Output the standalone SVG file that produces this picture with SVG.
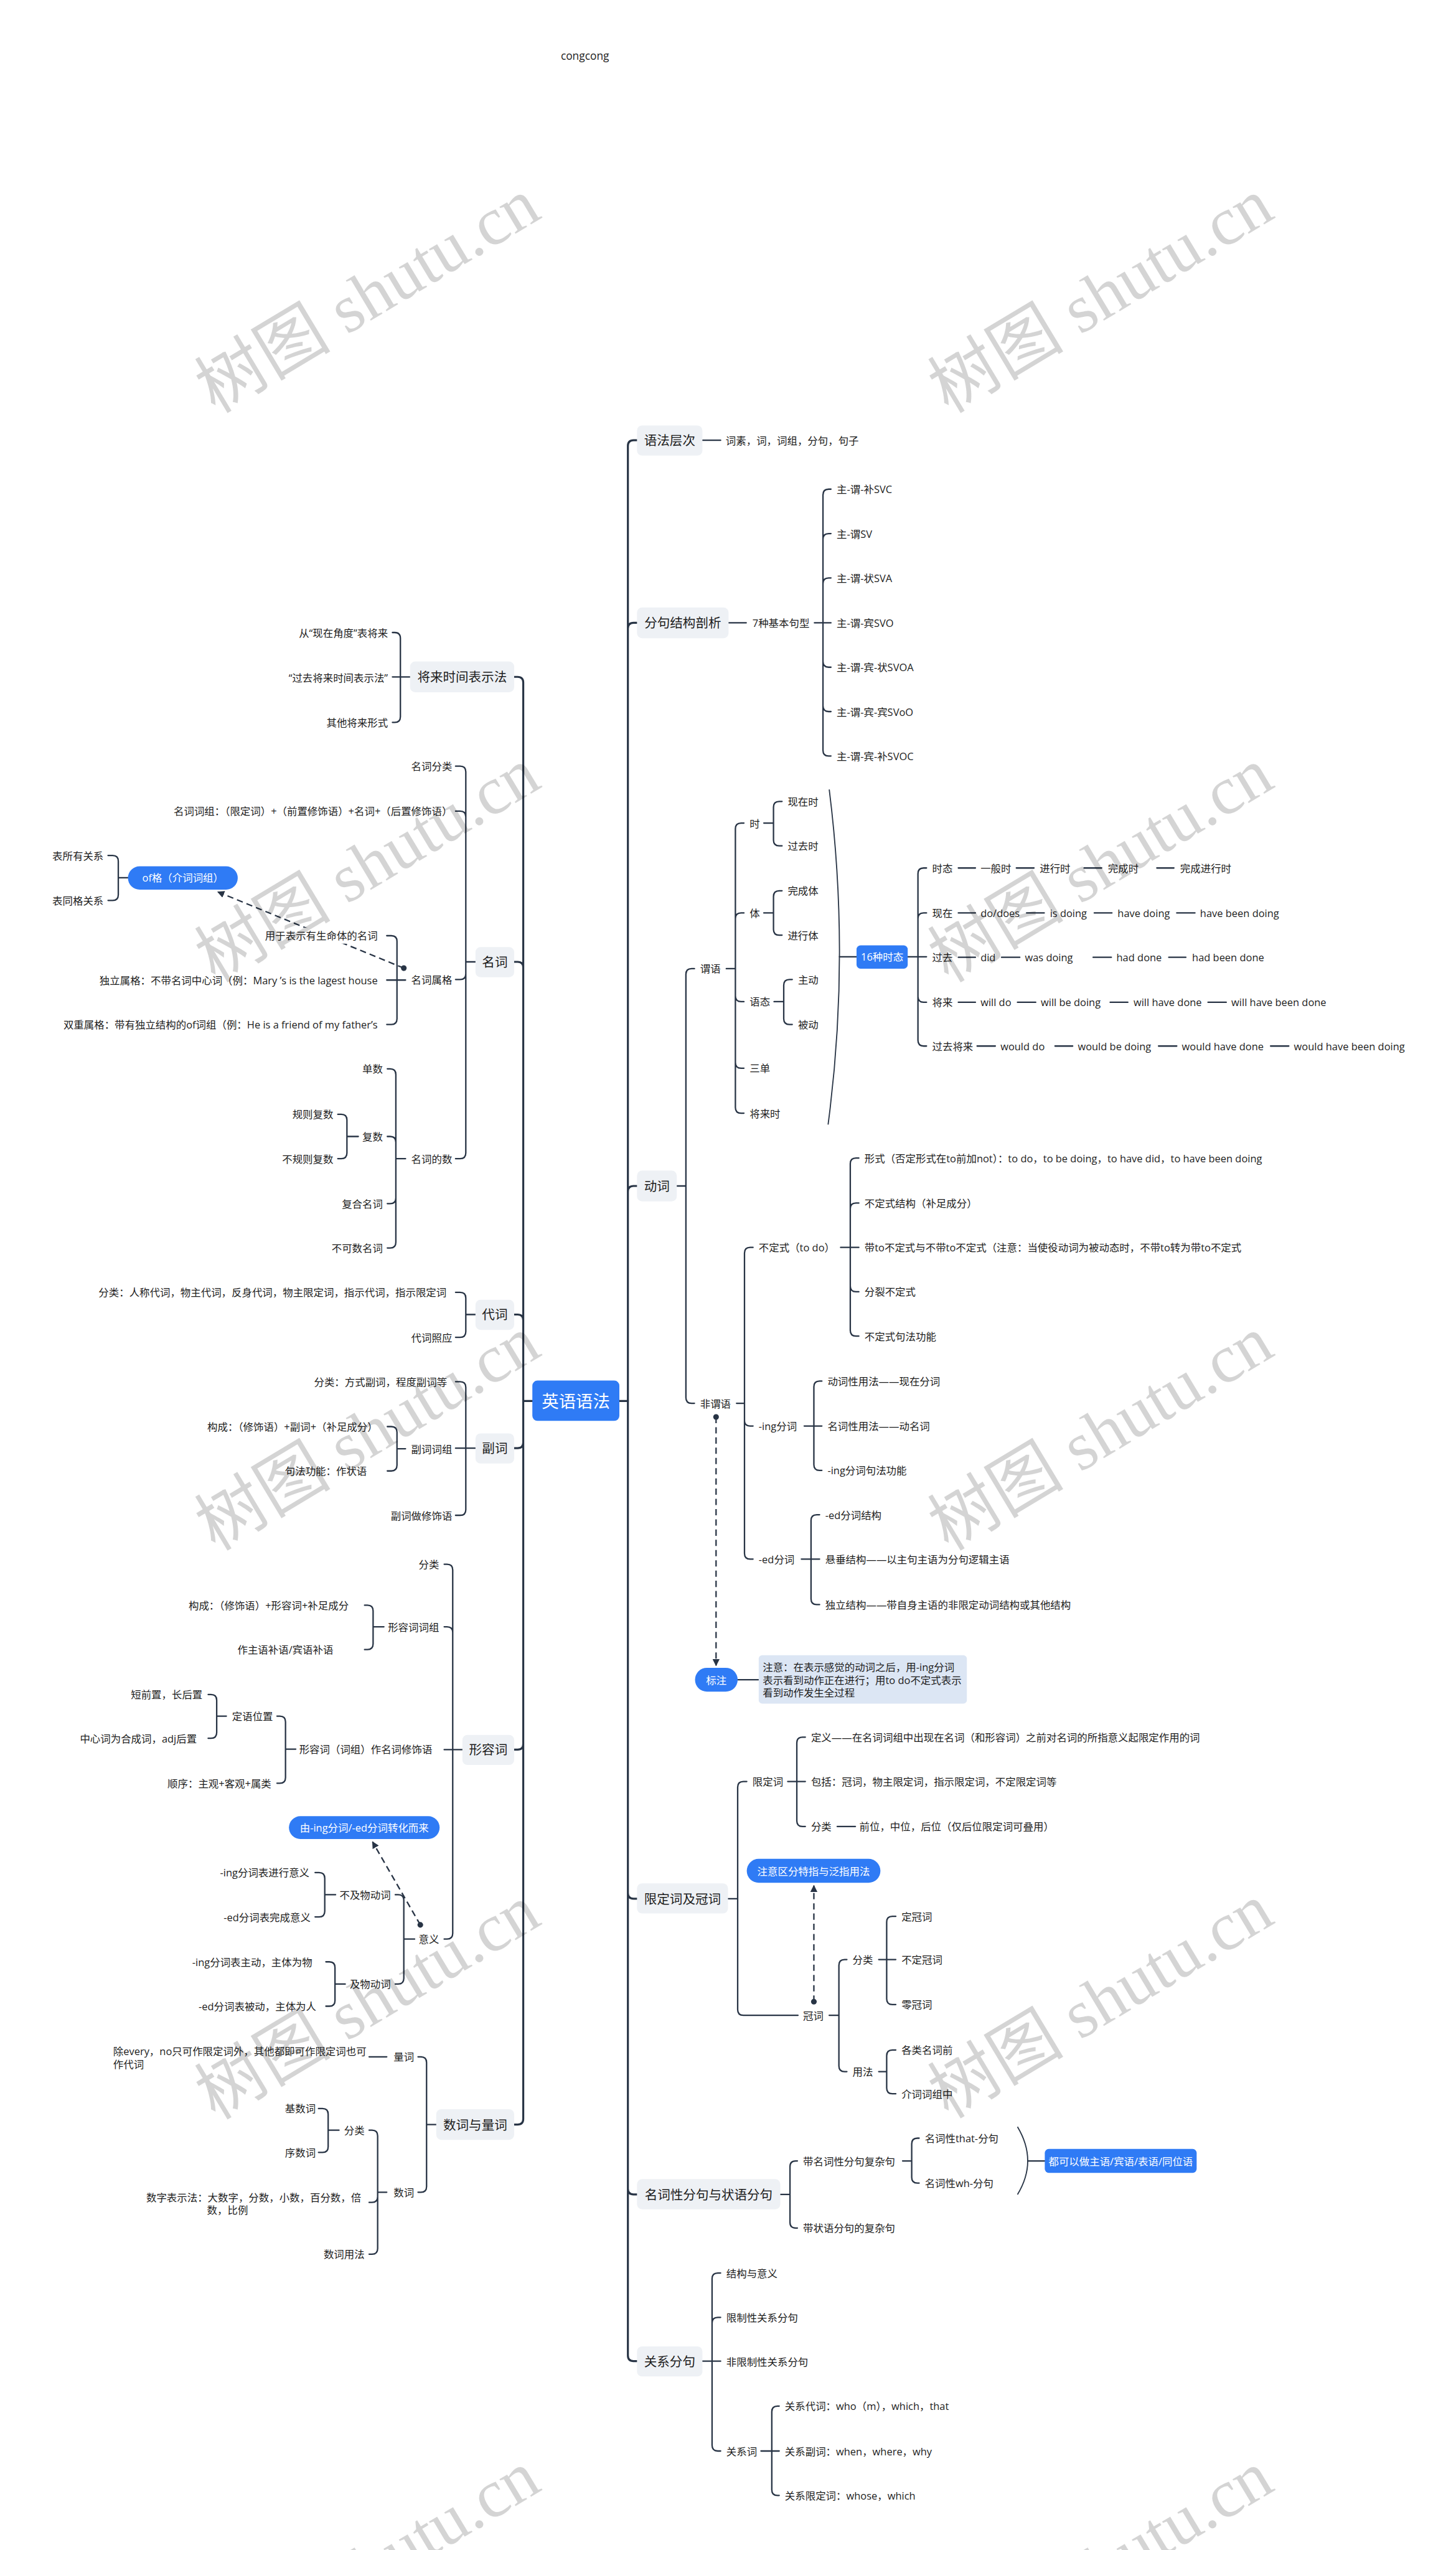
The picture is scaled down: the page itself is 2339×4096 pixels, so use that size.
<svg xmlns="http://www.w3.org/2000/svg" width="2339" height="4096" viewBox="0 0 2339 4096">
<defs>
<style>
.t{font-family:"Open Sans","Noto Sans CJK SC",sans-serif;font-size:18px;fill:#1c1c1c;dominant-baseline:central}
.e{text-anchor:end}
.m{text-anchor:middle}
.l1{font-size:22.5px}
.c0{font-size:30px}
.w{fill:#ffffff}
.box{fill:#eef1f5}
.blue{fill:#2f7bf5}
.note{fill:#dce6f4}
.ln{fill:none;stroke:#283445;stroke-width:2.5;stroke-linecap:round}
.tr{fill:none;stroke:#283445;stroke-width:3.5;stroke-linecap:round}
.sm{fill:none;stroke:#283445;stroke-width:2}
.da{fill:none;stroke:#283445;stroke-width:2.5;stroke-dasharray:11 7}
.dot{fill:#283445}
.wm{font-family:"Liberation Serif","Noto Sans CJK SC",serif;font-size:120px;fill:#000;fill-opacity:0.17;text-anchor:middle;dominant-baseline:central}
</style>
<marker id="ah" viewBox="0 0 10 10" refX="9" refY="5" markerWidth="5" markerHeight="5" orient="auto" markerUnits="strokeWidth"><path d="M0,0 L10,5 L0,10 z" fill="#283445"/></marker>
</defs>
<rect width="2339" height="4096" fill="#ffffff"/>
<g transform="scale(0.91367)">
<text class="t" x="986" y="97" style="font-size:19px">congcong</text>

<g id="connectors">
<path class="tr" d="M904,1190H910Q920,1190 920,1200V3725Q920,3735 910,3735H904M904,1691H910Q920,1691 920,1701M904,2311H910Q920,2311 920,2321M904,2546H910Q920,2546 920,2536M904,3076H910Q920,3076 920,3066M920,2463H936M1089,2463H1104"/>
<path class="tr" d="M1120,774H1114Q1104,774 1104,784V4141Q1104,4151 1114,4151H1120M1120,1095H1114Q1104,1095 1104,1105M1120,2085H1114Q1104,2085 1104,2095M1120,3338H1114Q1104,3338 1104,3328M1120,3858H1114Q1104,3858 1104,3848"/>
<path class="ln" d="M721,1190H690M690,1112H694Q704,1112 704,1122V1260Q704,1270 694,1270H690"/>
<path class="ln" d="M836,1691H819M801,1347H809Q819,1347 819,1357V2027Q819,2037 809,2037H801M819,1436Q819,1426 809,1426H801M819,1712Q819,1722 809,1722H801"/>
<path class="ln" d="M713,1723H680M680,1645H688Q698,1645 698,1655V1791Q698,1801 688,1801H680"/>
<path class="ln" d="M225,1543H208M190,1504H198Q208,1504 208,1514V1573Q208,1583 198,1583H190"/>
<path class="ln" d="M713,2037H696M681,1879H686Q696,1879 696,1889V2184Q696,2194 686,2194H681M696,2008Q696,1998 686,1998H681M696,2106Q696,2116 686,2116H681"/>
<path class="ln" d="M630,1998H610M594,1959H600Q610,1959 610,1969V2027Q610,2037 600,2037H594"/>
<path class="ln" d="M836,2311H819M801,2272H809Q819,2272 819,2282V2341Q819,2351 809,2351H801"/>
<path class="ln" d="M836,2546H801M801,2429H809Q819,2429 819,2439V2654Q819,2664 809,2664H801"/>
<path class="ln" d="M713,2547H698M681,2508H688Q698,2508 698,2518V2576Q698,2586 688,2586H681"/>
<path class="ln" d="M813,3076H781M781,2750H786Q796,2750 796,2760V3399Q796,3409 786,3409H781M796,2870Q796,2860 786,2860H781"/>
<path class="ln" d="M675,2860H656M641,2822H646Q656,2822 656,2832V2890Q656,2900 646,2900H641"/>
<path class="ln" d="M520,3075H502M487,3017H492Q502,3017 502,3027V3125Q502,3135 492,3135H487"/>
<path class="ln" d="M398,3017H381M366,2979H371Q381,2979 381,2989V3046Q381,3056 371,3056H366"/>
<path class="ln" d="M729,3409H710M695,3331H700Q710,3331 710,3341V3478Q710,3488 700,3488H695"/>
<path class="ln" d="M590,3331H571M554,3292H561Q571,3292 571,3302V3360Q571,3370 561,3370H554"/>
<path class="ln" d="M607,3488H589M573,3449H579Q589,3449 589,3459V3517Q589,3527 579,3527H573"/>
<path class="ln" d="M767,3735H750M735,3616H740Q750,3616 750,3626V3844Q750,3854 740,3854H735M680,3616H649"/>
<path class="ln" d="M680,3854H664M649,3745H654Q664,3745 664,3755V3953Q664,3963 654,3963H649M664,3862Q664,3872 654,3872H649"/>
<path class="ln" d="M596,3745H577M560,3707H567Q577,3707 577,3717V3774Q577,3784 567,3784H560"/>
<path class="da" d="M710,1702L383,1568" marker-end="url(#ah)"/>
<circle class="dot" cx="710" cy="1702" r="5"/>
<path class="da" d="M739,3384L655,3238" marker-end="url(#ah)"/>
<circle class="dot" cx="739" cy="3384" r="5"/>

<path class="ln" d="M1235,774H1267"/>
<path class="ln" d="M1281,1095H1312M1432,1095H1461M1461,860H1457Q1447,860 1447,870V1319Q1447,1329 1457,1329H1461M1447,948Q1447,938 1457,938H1461M1447,1026Q1447,1016 1457,1016H1461M1447,1163Q1447,1173 1457,1173H1461M1447,1241Q1447,1251 1457,1251H1461"/>
<path class="ln" d="M1190,2085H1206M1221,1703H1216Q1206,1703 1206,1713V2457Q1206,2467 1216,2467H1221"/>
<path class="ln" d="M1277,1703H1293M1308,1447H1303Q1293,1447 1293,1457V1947Q1293,1957 1303,1957H1308M1293,1615Q1293,1605 1303,1605H1308M1293,1751Q1293,1761 1303,1761H1308M1293,1868Q1293,1878 1303,1878H1308"/>
<path class="ln" d="M1343,1447H1360M1375,1409H1370Q1360,1409 1360,1419V1477Q1360,1487 1370,1487H1375"/>
<path class="ln" d="M1343,1605H1360M1375,1566H1370Q1360,1566 1360,1576V1634Q1360,1644 1370,1644H1375"/>
<path class="ln" d="M1361,1761H1378M1393,1722H1388Q1378,1722 1378,1732V1791Q1378,1801 1388,1801H1393"/>
<path class="sm" d="M1458,1388Q1495,1682 1456,1977"/>
<path class="ln" d="M1476,1682H1506"/>
<path class="ln" d="M1596,1682H1629M1629,1526H1624Q1614,1526 1614,1536V1829Q1614,1839 1624,1839H1629M1614,1615Q1614,1605 1624,1605H1629M1614,1752Q1614,1762 1624,1762H1629"/>
<path class="ln" d="M1685,1526H1715M1787,1526H1818M1906,1526H1937M2034,1526H2064M1685,1605H1715M1805,1605H1836M1924,1605H1955M2069,1605H2101M1685,1683H1715M1761,1683H1793M1922,1683H1954M2055,1683H2085M1685,1762H1715M1789,1762H1821M1952,1762H1983M2124,1762H2156M1718,1839H1750M1855,1839H1886M2037,1839H2069M2234,1839H2266"/>
<path class="ln" d="M1295,2467H1309M1324,2193H1319Q1309,2193 1309,2203V2731Q1309,2741 1319,2741H1324M1309,2497Q1309,2507 1319,2507H1324"/>
<path class="ln" d="M1478,2193H1510M1510,2036H1505Q1495,2036 1495,2046V2339Q1495,2349 1505,2349H1510M1495,2125Q1495,2115 1505,2115H1510M1495,2261Q1495,2271 1505,2271H1510"/>
<path class="ln" d="M1414,2507H1445M1445,2428H1441Q1431,2428 1431,2438V2575Q1431,2585 1441,2585H1445"/>
<path class="ln" d="M1409,2741H1441M1441,2663H1436Q1426,2663 1426,2673V2811Q1426,2821 1436,2821H1441"/>
<path class="da" d="M1259,2491V2928" marker-end="url(#ah)"/>
<circle class="dot" cx="1259" cy="2491" r="5"/>
<path class="ln" d="M1297,2953H1334"/>
<path class="ln" d="M1280,3338H1297M1313,3132H1307Q1297,3132 1297,3142V3533Q1297,3543 1307,3543H1403"/>
<path class="ln" d="M1385,3132H1416M1416,3054H1411Q1401,3054 1401,3064V3201Q1401,3211 1411,3211H1416M1472,3211H1504"/>
<path class="da" d="M1431,3519V3315" marker-end="url(#ah)"/>
<circle class="dot" cx="1431" cy="3519" r="5"/>
<path class="ln" d="M1458,3543H1475M1489,3445H1485Q1475,3445 1475,3455V3632Q1475,3642 1485,3642H1489"/>
<path class="ln" d="M1545,3445H1575M1575,3369H1569Q1559,3369 1559,3379V3514Q1559,3524 1569,3524H1575"/>
<path class="ln" d="M1545,3642H1559M1575,3604H1569Q1559,3604 1559,3614V3671Q1559,3681 1569,3681H1575"/>
<path class="ln" d="M1372,3858H1389M1402,3799H1399Q1389,3799 1389,3809V3907Q1389,3917 1399,3917H1402"/>
<path class="ln" d="M1587,3799H1603M1616,3759H1613Q1603,3759 1603,3769V3828Q1603,3838 1613,3838H1616"/>
<path class="sm" d="M1789,3739Q1825,3799 1789,3858"/>
<path class="ln" d="M1807,3799H1837"/>
<path class="ln" d="M1235,4151H1267M1267,3996H1262Q1252,3996 1252,4006V4299Q1252,4309 1262,4309H1267M1252,4084Q1252,4074 1262,4074H1267"/>
<path class="ln" d="M1338,4309H1370M1370,4230H1367Q1357,4230 1357,4240V4377Q1357,4387 1367,4387H1370"/>
</g>

<g id="root"><rect class="blue" x="936" y="2427" width="153" height="71" rx="9"/><text class="t m w c0" x="1012.5" y="2463">英语语法</text></g>

<g id="n-future"><rect class="box" x="721" y="1163" width="183" height="54" rx="9"/><text class="t m l1" x="812.5" y="1190">将来时间表示法</text></g>
<g id="n-future-1"><text class="t e" x="682" y="1112">从“现在角度”表将来</text></g>
<g id="n-future-2"><text class="t e" x="682" y="1191">“过去将来时间表示法”</text></g>
<g id="n-future-3"><text class="t e" x="682" y="1270">其他将来形式</text></g>

<g id="n-noun"><rect class="box" x="836" y="1665" width="68" height="53" rx="9"/><text class="t m l1" x="870" y="1691">名词</text></g>
<g id="n-noun-1"><text class="t e" x="795" y="1347">名词分类</text></g>
<g id="n-noun-2"><text class="t e" x="795" y="1426">名词词组：（限定词）+（前置修饰语）+名词+（后置修饰语）</text></g>
<g id="n-noun-3"><text class="t e" x="795" y="1722">名词属格</text></g>
<g id="n-noun-31"><rect x="462" y="1631" width="204" height="28" fill="#ffffff"/><text class="t e" x="664" y="1645">用于表示有生命体的名词</text></g>
<g id="n-noun-32"><text class="t e" x="664" y="1723">独立属格：不带名词中心词（例：Mary ’s is the lagest house</text></g>
<g id="n-noun-33"><text class="t e" x="664" y="1801">双重属格：带有独立结构的of词组（例：He is a friend of my father’s</text></g>
<g id="n-of"><rect class="blue" x="225" y="1523" width="193" height="41" rx="20.5"/><text class="t m w" x="321.5" y="1543">of格（介词词组）</text></g>
<g id="n-of-1"><text class="t e" x="182" y="1504">表所有关系</text></g>
<g id="n-of-2"><text class="t e" x="182" y="1583">表同格关系</text></g>
<g id="n-noun-4"><text class="t e" x="795" y="2037">名词的数</text></g>
<g id="n-noun-41"><text class="t e" x="673" y="1879">单数</text></g>
<g id="n-noun-42"><text class="t e" x="673" y="1998">复数</text></g>
<g id="n-noun-421"><text class="t e" x="586" y="1959">规则复数</text></g>
<g id="n-noun-422"><text class="t e" x="586" y="2037">不规则复数</text></g>
<g id="n-noun-43"><text class="t e" x="673" y="2116">复合名词</text></g>
<g id="n-noun-44"><text class="t e" x="673" y="2194">不可数名词</text></g>

<g id="n-pron"><rect class="box" x="836" y="2285" width="68" height="53" rx="9"/><text class="t m l1" x="870" y="2311">代词</text></g>
<g id="n-pron-1"><text class="t e" x="785" y="2272">分类：人称代词，物主代词，反身代词，物主限定词，指示代词，指示限定词</text></g>
<g id="n-pron-2"><text class="t e" x="795" y="2351">代词照应</text></g>

<g id="n-adv"><rect class="box" x="836" y="2520" width="68" height="53" rx="9"/><text class="t m l1" x="870" y="2546">副词</text></g>
<g id="n-adv-1"><text class="t e" x="786" y="2429">分类：方式副词，程度副词等</text></g>
<g id="n-adv-2"><text class="t e" x="795" y="2547">副词词组</text></g>
<g id="n-adv-21"><text class="t e" x="664" y="2508">构成：（修饰语）+副词+（补足成分）</text></g>
<g id="n-adv-22"><text class="t e" x="645" y="2586">句法功能：作状语</text></g>
<g id="n-adv-3"><text class="t e" x="795" y="2664">副词做修饰语</text></g>

<g id="n-adj"><rect class="box" x="813" y="3050" width="91" height="53" rx="9"/><text class="t m l1" x="858.5" y="3076">形容词</text></g>
<g id="n-adj-1"><text class="t e" x="772" y="2750">分类</text></g>
<g id="n-adj-2"><text class="t e" x="772" y="2860">形容词词组</text></g>
<g id="n-adj-21"><text class="t e" x="613" y="2822">构成：（修饰语）+形容词+补足成分</text></g>
<g id="n-adj-22"><text class="t e" x="586" y="2900">作主语补语/宾语补语</text></g>
<g id="n-adj-3"><text class="t e" x="760" y="3075">形容词（词组）作名词修饰语</text></g>
<g id="n-adj-31"><text class="t e" x="480" y="3017">定语位置</text></g>
<g id="n-adj-311"><text class="t e" x="356" y="2979">短前置，长后置</text></g>
<g id="n-adj-312"><text class="t e" x="346" y="3056">中心词为合成词，adj后置</text></g>
<g id="n-adj-32"><text class="t e" x="477" y="3135">顺序：主观+客观+属类</text></g>
<g id="n-adj-pill"><rect class="blue" x="508" y="3193" width="265" height="40" rx="20"/><text class="t m w" x="640.5" y="3213">由-ing分词/-ed分词转化而来</text></g>
<g id="n-adj-4"><text class="t e" x="772" y="3409">意义</text></g>
<g id="n-adj-41"><text class="t e" x="687" y="3331">不及物动词</text></g>
<g id="n-adj-411"><text class="t e" x="544" y="3292">-ing分词表进行意义</text></g>
<g id="n-adj-412"><text class="t e" x="546" y="3370">-ed分词表完成意义</text></g>
<g id="n-adj-42"><text class="t e" x="687" y="3488">及物动词</text></g>
<g id="n-adj-421"><text class="t e" x="549" y="3449">-ing分词表主动，主体为物</text></g>
<g id="n-adj-422"><text class="t e" x="556" y="3527">-ed分词表被动，主体为人</text></g>

<g id="n-num"><rect class="box" x="767" y="3708" width="137" height="54" rx="9"/><text class="t m l1" x="835.5" y="3735">数词与量词</text></g>
<g id="n-num-1"><text class="t e" x="728" y="3616">量词</text></g>
<g id="n-num-11"><text class="t" x="199" y="3606">除every，no只可作限定词外，其他都即可作限定词也可</text><text class="t" x="199" y="3629">作代词</text></g>
<g id="n-num-2"><text class="t e" x="728" y="3854">数词</text></g>
<g id="n-num-21"><text class="t e" x="641" y="3745">分类</text></g>
<g id="n-num-211"><text class="t e" x="555" y="3707">基数词</text></g>
<g id="n-num-212"><text class="t e" x="555" y="3784">序数词</text></g>
<g id="n-num-22"><text class="t e" x="635" y="3863">数字表示法：大数字，分数，小数，百分数，倍</text><text class="t" x="364" y="3885">数，比例</text></g>
<g id="n-num-23"><text class="t e" x="641" y="3963">数词用法</text></g>

<g id="n-level"><rect class="box" x="1120" y="748" width="115" height="53" rx="9"/><text class="t m l1" x="1177.5" y="774">语法层次</text></g>
<g id="n-level-1"><text class="t" x="1276" y="774">词素，词，词组，分句，句子</text></g>

<g id="n-clause"><rect class="box" x="1120" y="1068" width="161" height="54" rx="9"/><text class="t m l1" x="1200.5" y="1095">分句结构剖析</text></g>
<g id="n-clause-1"><text class="t" x="1323" y="1095">7种基本句型</text></g>
<g id="n-clause-11"><text class="t" x="1471" y="860">主-谓-补SVC</text></g>
<g id="n-clause-12"><text class="t" x="1471" y="938">主-谓SV</text></g>
<g id="n-clause-13"><text class="t" x="1471" y="1016">主-谓-状SVA</text></g>
<g id="n-clause-14"><text class="t" x="1471" y="1095">主-谓-宾SVO</text></g>
<g id="n-clause-15"><text class="t" x="1471" y="1173">主-谓-宾-状SVOA</text></g>
<g id="n-clause-16"><text class="t" x="1471" y="1251">主-谓-宾-宾SVoO</text></g>
<g id="n-clause-17"><text class="t" x="1471" y="1329">主-谓-宾-补SVOC</text></g>

<g id="n-verb"><rect class="box" x="1120" y="2058" width="70" height="54" rx="9"/><text class="t m l1" x="1155" y="2085">动词</text></g>
<g id="n-pred"><text class="t" x="1231" y="1703">谓语</text></g>
<g id="n-pred-1"><text class="t" x="1318" y="1447">时</text></g>
<g id="n-pred-11"><text class="t" x="1385" y="1409">现在时</text></g>
<g id="n-pred-12"><text class="t" x="1385" y="1487">过去时</text></g>
<g id="n-pred-2"><text class="t" x="1318" y="1605">体</text></g>
<g id="n-pred-21"><text class="t" x="1385" y="1566">完成体</text></g>
<g id="n-pred-22"><text class="t" x="1385" y="1644">进行体</text></g>
<g id="n-pred-3"><text class="t" x="1318" y="1761">语态</text></g>
<g id="n-pred-31"><text class="t" x="1403" y="1722">主动</text></g>
<g id="n-pred-32"><text class="t" x="1403" y="1801">被动</text></g>
<g id="n-pred-4"><text class="t" x="1318" y="1878">三单</text></g>
<g id="n-pred-5"><text class="t" x="1318" y="1957">将来时</text></g>
<g id="n-tense16"><rect class="blue" x="1506" y="1662" width="90" height="41" rx="7"/><text class="t m w" x="1551" y="1682">16种时态</text></g>
<g id="n-tense-rows">
<text class="t" x="1639" y="1526">时态</text><text class="t" x="1724" y="1526">一般时</text><text class="t" x="1828" y="1526">进行时</text><text class="t" x="1948" y="1526">完成时</text><text class="t" x="2075" y="1526">完成进行时</text>
<text class="t" x="1639" y="1605">现在</text><text class="t" x="1724" y="1605">do/does</text><text class="t" x="1846" y="1605">is doing</text><text class="t" x="1965" y="1605">have doing</text><text class="t" x="2110" y="1605">have been doing</text>
<text class="t" x="1639" y="1683">过去</text><text class="t" x="1724" y="1683">did</text><text class="t" x="1802" y="1683">was doing</text><text class="t" x="1963" y="1683">had done</text><text class="t" x="2096" y="1683">had been done</text>
<text class="t" x="1639" y="1762">将来</text><text class="t" x="1724" y="1762">will do</text><text class="t" x="1830" y="1762">will be doing</text><text class="t" x="1993" y="1762">will have done</text><text class="t" x="2165" y="1762">will have been done</text>
<text class="t" x="1639" y="1839">过去将来</text><text class="t" x="1759" y="1839">would do</text><text class="t" x="1895" y="1839">would be doing</text><text class="t" x="2078" y="1839">would have done</text><text class="t" x="2275" y="1839">would have been doing</text>
</g>
<g id="n-nonpred"><text class="t" x="1231" y="2467">非谓语</text></g>
<g id="n-inf"><text class="t" x="1334" y="2193">不定式（to do）</text></g>
<g id="n-inf-1"><text class="t" x="1520" y="2036">形式（否定形式在to前加not）：to do，to be doing，to have did，to have been doing</text></g>
<g id="n-inf-2"><text class="t" x="1520" y="2115">不定式结构（补足成分）</text></g>
<g id="n-inf-3"><text class="t" x="1520" y="2193">带to不定式与不带to不定式（注意：当使役动词为被动态时，不带to转为带to不定式</text></g>
<g id="n-inf-4"><text class="t" x="1520" y="2271">分裂不定式</text></g>
<g id="n-inf-5"><text class="t" x="1520" y="2349">不定式句法功能</text></g>
<g id="n-ing"><text class="t" x="1334" y="2507">-ing分词</text></g>
<g id="n-ing-1"><text class="t" x="1455" y="2428">动词性用法——现在分词</text></g>
<g id="n-ing-2"><text class="t" x="1455" y="2507">名词性用法——动名词</text></g>
<g id="n-ing-3"><text class="t" x="1455" y="2585">-ing分词句法功能</text></g>
<g id="n-ed"><text class="t" x="1334" y="2741">-ed分词</text></g>
<g id="n-ed-1"><text class="t" x="1451" y="2663">-ed分词结构</text></g>
<g id="n-ed-2"><text class="t" x="1451" y="2741">悬垂结构——以主句主语为分句逻辑主语</text></g>
<g id="n-ed-3"><text class="t" x="1451" y="2821">独立结构——带自身主语的非限定动词结构或其他结构</text></g>
<g id="n-label"><rect class="blue" x="1222" y="2932" width="75" height="42" rx="21"/><text class="t m w" x="1259.5" y="2953">标注</text></g>
<g id="n-note"><rect class="note" x="1334" y="2910" width="366" height="85" rx="6"/><text class="t" x="1341" y="2931">注意：在表示感觉的动词之后，用-ing分词</text><text class="t" x="1341" y="2953">表示看到动作正在进行；用to do不定式表示</text><text class="t" x="1341" y="2975">看到动作发生全过程</text></g>

<g id="n-det"><rect class="box" x="1120" y="3311" width="160" height="53" rx="9"/><text class="t m l1" x="1200" y="3338">限定词及冠词</text></g>
<g id="n-det-1"><text class="t" x="1323" y="3132">限定词</text></g>
<g id="n-det-11"><text class="t" x="1426" y="3054">定义——在名词词组中出现在名词（和形容词）之前对名词的所指意义起限定作用的词</text></g>
<g id="n-det-12"><text class="t" x="1426" y="3132">包括：冠词，物主限定词，指示限定词，不定限定词等</text></g>
<g id="n-det-13"><text class="t" x="1426" y="3211">分类</text><text class="t" x="1511" y="3211">前位，中位，后位（仅后位限定词可叠用）</text></g>
<g id="n-det-pill"><rect class="blue" x="1313" y="3268" width="235" height="42" rx="21"/><text class="t m w" x="1430.5" y="3289">注意区分特指与泛指用法</text></g>
<g id="n-art"><text class="t" x="1412" y="3543">冠词</text></g>
<g id="n-art-1"><text class="t" x="1499" y="3445">分类</text></g>
<g id="n-art-11"><text class="t" x="1585" y="3369">定冠词</text></g>
<g id="n-art-12"><text class="t" x="1585" y="3445">不定冠词</text></g>
<g id="n-art-13"><text class="t" x="1585" y="3524">零冠词</text></g>
<g id="n-art-2"><text class="t" x="1499" y="3642">用法</text></g>
<g id="n-art-21"><text class="t" x="1585" y="3604">各类名词前</text></g>
<g id="n-art-22"><text class="t" x="1585" y="3681">介词词组中</text></g>

<g id="n-nc"><rect class="box" x="1120" y="3831" width="252" height="53" rx="9"/><text class="t m l1" x="1246" y="3858">名词性分句与状语分句</text></g>
<g id="n-nc-1"><text class="t" x="1412" y="3799">带名词性分句复杂句</text></g>
<g id="n-nc-11"><text class="t" x="1626" y="3759">名词性that-分句</text></g>
<g id="n-nc-12"><text class="t" x="1626" y="3838">名词性wh-分句</text></g>
<g id="n-nc-sum"><rect class="blue" x="1837" y="3778" width="267" height="42" rx="7"/><text class="t m w" x="1970.5" y="3799">都可以做主语/宾语/表语/同位语</text></g>
<g id="n-nc-2"><text class="t" x="1412" y="3917">带状语分句的复杂句</text></g>

<g id="n-rel"><rect class="box" x="1120" y="4125" width="115" height="53" rx="9"/><text class="t m l1" x="1177.5" y="4151">关系分句</text></g>
<g id="n-rel-1"><text class="t" x="1277" y="3996">结构与意义</text></g>
<g id="n-rel-2"><text class="t" x="1277" y="4074">限制性关系分句</text></g>
<g id="n-rel-3"><text class="t" x="1277" y="4152">非限制性关系分句</text></g>
<g id="n-rel-4"><text class="t" x="1277" y="4309">关系词</text></g>
<g id="n-rel-41"><text class="t" x="1380" y="4230">关系代词：who（m），which，that</text></g>
<g id="n-rel-42"><text class="t" x="1380" y="4309">关系副词：when，where，why</text></g>
<g id="n-rel-43"><text class="t" x="1380" y="4387">关系限定词：whose，which</text></g>

<g id="watermark">
<text class="wm" transform="translate(646,520) rotate(-31)">树图 shutu.cn</text>
<text class="wm" transform="translate(1935,520) rotate(-31)">树图 shutu.cn</text>
<text class="wm" transform="translate(646,1521) rotate(-31)">树图 shutu.cn</text>
<text class="wm" transform="translate(1935,1521) rotate(-31)">树图 shutu.cn</text>
<text class="wm" transform="translate(646,2520) rotate(-31)">树图 shutu.cn</text>
<text class="wm" transform="translate(1935,2520) rotate(-31)">树图 shutu.cn</text>
<text class="wm" transform="translate(646,3520) rotate(-31)">树图 shutu.cn</text>
<text class="wm" transform="translate(1935,3518) rotate(-31)">树图 shutu.cn</text>
<text class="wm" transform="translate(646,4515) rotate(-31)">树图 shutu.cn</text>
<text class="wm" transform="translate(1935,4515) rotate(-31)">树图 shutu.cn</text>
</g>
</g>
</svg>
